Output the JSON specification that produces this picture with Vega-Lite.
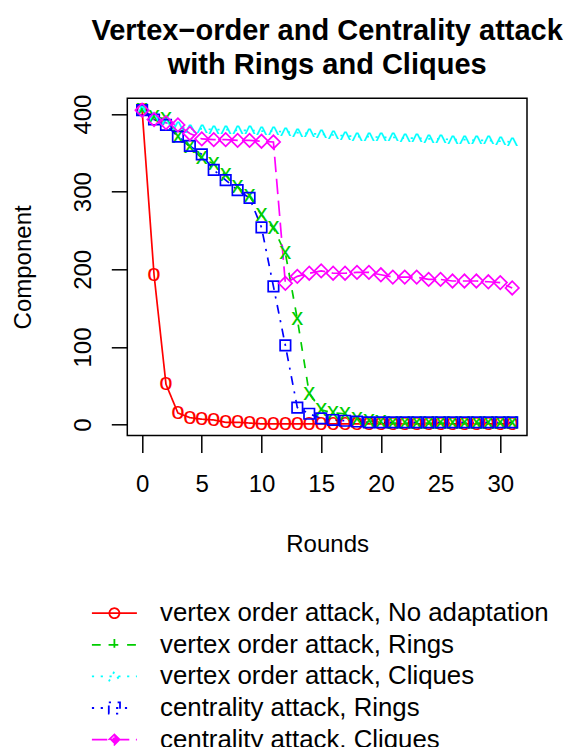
{
  "$schema": "https://vega.github.io/schema/vega-lite/v6.json",
  "autosize": {"type": "none"},
  "width": 399.7,
  "height": 337.2,
  "padding": {"left": 127.3, "top": 98.3, "right": 47, "bottom": 311.5},
  "background": "white",
  "config": {
    "font": "Liberation Sans",
    "view": {"stroke": "black", "strokeWidth": 1.5},
    "axis": {"domain": false, "grid": false, "tickColor": "black", "tickWidth": 1.5, "labelColor": "black", "titleColor": "black", "labelFont": "Liberation Sans", "titleFont": "Liberation Sans", "labelFontSize": 24, "titleFontSize": 24, "titleFontWeight": "normal"}
  },
  "title": {
    "text": ["Vertex−order and Centrality attack", "with Rings and Cliques"],
    "font": "Liberation Sans", "fontSize": 29, "fontWeight": "bold", "color": "black",
    "anchor": "middle", "frame": "group", "offset": 14, "lineHeight": 34
  },
  "data": {"values": [
    {"round":0,"component":405,"series":"vertex order attack, No adaptation"},
    {"round":1,"component":193,"series":"vertex order attack, No adaptation"},
    {"round":2,"component":52,"series":"vertex order attack, No adaptation"},
    {"round":3,"component":15,"series":"vertex order attack, No adaptation"},
    {"round":4,"component":9,"series":"vertex order attack, No adaptation"},
    {"round":5,"component":7,"series":"vertex order attack, No adaptation"},
    {"round":6,"component":6,"series":"vertex order attack, No adaptation"},
    {"round":7,"component":3,"series":"vertex order attack, No adaptation"},
    {"round":8,"component":3,"series":"vertex order attack, No adaptation"},
    {"round":9,"component":2,"series":"vertex order attack, No adaptation"},
    {"round":10,"component":1,"series":"vertex order attack, No adaptation"},
    {"round":11,"component":1,"series":"vertex order attack, No adaptation"},
    {"round":12,"component":1,"series":"vertex order attack, No adaptation"},
    {"round":13,"component":1,"series":"vertex order attack, No adaptation"},
    {"round":14,"component":1,"series":"vertex order attack, No adaptation"},
    {"round":15,"component":1,"series":"vertex order attack, No adaptation"},
    {"round":16,"component":1,"series":"vertex order attack, No adaptation"},
    {"round":17,"component":1,"series":"vertex order attack, No adaptation"},
    {"round":18,"component":1,"series":"vertex order attack, No adaptation"},
    {"round":19,"component":1,"series":"vertex order attack, No adaptation"},
    {"round":20,"component":1,"series":"vertex order attack, No adaptation"},
    {"round":21,"component":1,"series":"vertex order attack, No adaptation"},
    {"round":22,"component":1,"series":"vertex order attack, No adaptation"},
    {"round":23,"component":1,"series":"vertex order attack, No adaptation"},
    {"round":24,"component":1,"series":"vertex order attack, No adaptation"},
    {"round":25,"component":1,"series":"vertex order attack, No adaptation"},
    {"round":26,"component":1,"series":"vertex order attack, No adaptation"},
    {"round":27,"component":1,"series":"vertex order attack, No adaptation"},
    {"round":28,"component":1,"series":"vertex order attack, No adaptation"},
    {"round":29,"component":1,"series":"vertex order attack, No adaptation"},
    {"round":30,"component":1,"series":"vertex order attack, No adaptation"},
    {"round":31,"component":1,"series":"vertex order attack, No adaptation"},
    {"round":0,"component":405,"series":"vertex order attack, Rings"},
    {"round":1,"component":396,"series":"vertex order attack, Rings"},
    {"round":2,"component":394,"series":"vertex order attack, Rings"},
    {"round":3,"component":371,"series":"vertex order attack, Rings"},
    {"round":4,"component":358,"series":"vertex order attack, Rings"},
    {"round":5,"component":343,"series":"vertex order attack, Rings"},
    {"round":6,"component":336,"series":"vertex order attack, Rings"},
    {"round":7,"component":321,"series":"vertex order attack, Rings"},
    {"round":8,"component":306,"series":"vertex order attack, Rings"},
    {"round":9,"component":294,"series":"vertex order attack, Rings"},
    {"round":10,"component":270,"series":"vertex order attack, Rings"},
    {"round":11,"component":253,"series":"vertex order attack, Rings"},
    {"round":12,"component":221,"series":"vertex order attack, Rings"},
    {"round":13,"component":136,"series":"vertex order attack, Rings"},
    {"round":14,"component":40,"series":"vertex order attack, Rings"},
    {"round":15,"component":19,"series":"vertex order attack, Rings"},
    {"round":16,"component":15,"series":"vertex order attack, Rings"},
    {"round":17,"component":14,"series":"vertex order attack, Rings"},
    {"round":18,"component":7,"series":"vertex order attack, Rings"},
    {"round":19,"component":5,"series":"vertex order attack, Rings"},
    {"round":20,"component":3,"series":"vertex order attack, Rings"},
    {"round":21,"component":2,"series":"vertex order attack, Rings"},
    {"round":22,"component":2,"series":"vertex order attack, Rings"},
    {"round":23,"component":2,"series":"vertex order attack, Rings"},
    {"round":24,"component":2,"series":"vertex order attack, Rings"},
    {"round":25,"component":2,"series":"vertex order attack, Rings"},
    {"round":26,"component":2,"series":"vertex order attack, Rings"},
    {"round":27,"component":2,"series":"vertex order attack, Rings"},
    {"round":28,"component":2,"series":"vertex order attack, Rings"},
    {"round":29,"component":2,"series":"vertex order attack, Rings"},
    {"round":30,"component":2,"series":"vertex order attack, Rings"},
    {"round":31,"component":2,"series":"vertex order attack, Rings"},
    {"round":0,"component":405,"series":"vertex order attack, Cliques"},
    {"round":1,"component":396,"series":"vertex order attack, Cliques"},
    {"round":2,"component":389,"series":"vertex order attack, Cliques"},
    {"round":3,"component":384,"series":"vertex order attack, Cliques"},
    {"round":4,"component":381,"series":"vertex order attack, Cliques"},
    {"round":5,"component":381,"series":"vertex order attack, Cliques"},
    {"round":6,"component":380,"series":"vertex order attack, Cliques"},
    {"round":7,"component":380,"series":"vertex order attack, Cliques"},
    {"round":8,"component":379,"series":"vertex order attack, Cliques"},
    {"round":9,"component":379,"series":"vertex order attack, Cliques"},
    {"round":10,"component":378,"series":"vertex order attack, Cliques"},
    {"round":11,"component":378,"series":"vertex order attack, Cliques"},
    {"round":12,"component":377,"series":"vertex order attack, Cliques"},
    {"round":13,"component":376,"series":"vertex order attack, Cliques"},
    {"round":14,"component":375,"series":"vertex order attack, Cliques"},
    {"round":15,"component":374,"series":"vertex order attack, Cliques"},
    {"round":16,"component":373,"series":"vertex order attack, Cliques"},
    {"round":17,"component":372,"series":"vertex order attack, Cliques"},
    {"round":18,"component":371,"series":"vertex order attack, Cliques"},
    {"round":19,"component":371,"series":"vertex order attack, Cliques"},
    {"round":20,"component":370,"series":"vertex order attack, Cliques"},
    {"round":21,"component":370,"series":"vertex order attack, Cliques"},
    {"round":22,"component":369,"series":"vertex order attack, Cliques"},
    {"round":23,"component":369,"series":"vertex order attack, Cliques"},
    {"round":24,"component":368,"series":"vertex order attack, Cliques"},
    {"round":25,"component":368,"series":"vertex order attack, Cliques"},
    {"round":26,"component":367,"series":"vertex order attack, Cliques"},
    {"round":27,"component":367,"series":"vertex order attack, Cliques"},
    {"round":28,"component":366,"series":"vertex order attack, Cliques"},
    {"round":29,"component":366,"series":"vertex order attack, Cliques"},
    {"round":30,"component":365,"series":"vertex order attack, Cliques"},
    {"round":31,"component":364,"series":"vertex order attack, Cliques"},
    {"round":0,"component":405,"series":"centrality attack, Rings"},
    {"round":1,"component":393,"series":"centrality attack, Rings"},
    {"round":2,"component":386,"series":"centrality attack, Rings"},
    {"round":3,"component":371,"series":"centrality attack, Rings"},
    {"round":4,"component":359,"series":"centrality attack, Rings"},
    {"round":5,"component":348,"series":"centrality attack, Rings"},
    {"round":6,"component":328,"series":"centrality attack, Rings"},
    {"round":7,"component":315,"series":"centrality attack, Rings"},
    {"round":8,"component":302,"series":"centrality attack, Rings"},
    {"round":9,"component":292,"series":"centrality attack, Rings"},
    {"round":10,"component":254,"series":"centrality attack, Rings"},
    {"round":11,"component":178,"series":"centrality attack, Rings"},
    {"round":12,"component":102,"series":"centrality attack, Rings"},
    {"round":13,"component":22,"series":"centrality attack, Rings"},
    {"round":14,"component":14,"series":"centrality attack, Rings"},
    {"round":15,"component":8,"series":"centrality attack, Rings"},
    {"round":16,"component":6,"series":"centrality attack, Rings"},
    {"round":17,"component":5,"series":"centrality attack, Rings"},
    {"round":18,"component":4,"series":"centrality attack, Rings"},
    {"round":19,"component":3,"series":"centrality attack, Rings"},
    {"round":20,"component":3,"series":"centrality attack, Rings"},
    {"round":21,"component":3,"series":"centrality attack, Rings"},
    {"round":22,"component":3,"series":"centrality attack, Rings"},
    {"round":23,"component":3,"series":"centrality attack, Rings"},
    {"round":24,"component":3,"series":"centrality attack, Rings"},
    {"round":25,"component":3,"series":"centrality attack, Rings"},
    {"round":26,"component":3,"series":"centrality attack, Rings"},
    {"round":27,"component":3,"series":"centrality attack, Rings"},
    {"round":28,"component":3,"series":"centrality attack, Rings"},
    {"round":29,"component":3,"series":"centrality attack, Rings"},
    {"round":30,"component":3,"series":"centrality attack, Rings"},
    {"round":31,"component":3,"series":"centrality attack, Rings"},
    {"round":0,"component":405,"series":"centrality attack, Cliques"},
    {"round":1,"component":393,"series":"centrality attack, Cliques"},
    {"round":2,"component":389,"series":"centrality attack, Cliques"},
    {"round":3,"component":386,"series":"centrality attack, Cliques"},
    {"round":4,"component":375,"series":"centrality attack, Cliques"},
    {"round":5,"component":368,"series":"centrality attack, Cliques"},
    {"round":6,"component":367,"series":"centrality attack, Cliques"},
    {"round":7,"component":367,"series":"centrality attack, Cliques"},
    {"round":8,"component":366,"series":"centrality attack, Cliques"},
    {"round":9,"component":366,"series":"centrality attack, Cliques"},
    {"round":10,"component":365,"series":"centrality attack, Cliques"},
    {"round":11,"component":364,"series":"centrality attack, Cliques"},
    {"round":12,"component":182,"series":"centrality attack, Cliques"},
    {"round":13,"component":191,"series":"centrality attack, Cliques"},
    {"round":14,"component":195,"series":"centrality attack, Cliques"},
    {"round":15,"component":198,"series":"centrality attack, Cliques"},
    {"round":16,"component":195,"series":"centrality attack, Cliques"},
    {"round":17,"component":195,"series":"centrality attack, Cliques"},
    {"round":18,"component":196,"series":"centrality attack, Cliques"},
    {"round":19,"component":196,"series":"centrality attack, Cliques"},
    {"round":20,"component":193,"series":"centrality attack, Cliques"},
    {"round":21,"component":190,"series":"centrality attack, Cliques"},
    {"round":22,"component":190,"series":"centrality attack, Cliques"},
    {"round":23,"component":190,"series":"centrality attack, Cliques"},
    {"round":24,"component":187,"series":"centrality attack, Cliques"},
    {"round":25,"component":187,"series":"centrality attack, Cliques"},
    {"round":26,"component":185,"series":"centrality attack, Cliques"},
    {"round":27,"component":185,"series":"centrality attack, Cliques"},
    {"round":28,"component":185,"series":"centrality attack, Cliques"},
    {"round":29,"component":184,"series":"centrality attack, Cliques"},
    {"round":30,"component":183,"series":"centrality attack, Cliques"},
    {"round":31,"component":176,"series":"centrality attack, Cliques"}
  ]},
  "encoding": {
    "x": {"field": "round", "type": "quantitative", "title": "Rounds",
      "scale": {"domain": [-1.24, 32.24], "nice": false, "zero": false},
      "axis": {"values": [0, 5, 10, 15, 20, 25, 30], "tickSize": 17, "labelPadding": 20, "titlePadding": 36, "labelFlush": false}},
    "y": {"field": "component", "type": "quantitative", "title": "Component",
      "scale": {"domain": [-14, 420.3], "nice": false, "zero": false},
      "axis": {"values": [0, 100, 200, 300, 400], "tickSize": 16, "labelAngle": 270, "labelAlign": "center", "labelBaseline": "alphabetic", "labelPadding": 21, "titlePadding": 41, "titleAngle": 270, "titleBaseline": "alphabetic", "labelFlush": false}}
  },
  "layer": [
    {
      "mark": {"type": "point", "filled": false, "opacity": 0, "size": 256},
      "encoding": {
        "color": {"field": "series", "type": "nominal",
          "scale": {"domain": ["vertex order attack, No adaptation", "vertex order attack, Rings", "vertex order attack, Cliques", "centrality attack, Rings", "centrality attack, Cliques"],
            "range": ["#FF0000", "#00CD00", "#00FFFF", "#0000FF", "#FF00FF"]},
          "legend": {"orient": "none", "legendX": -25.8, "legendY": 502, "title": null, "padding": 0,
            "symbolSize": 256, "symbolStrokeWidth": 1.8, "symbolOpacity": 1, "symbolFillColor": "transparent",
            "labelFontSize": 25.8, "labelFont": "Liberation Sans", "labelColor": "black", "labelLimit": 0,
            "labelOffset": 32.8, "rowPadding": 4.6, "direction": "vertical", "columns": 1}},
        "shape": {"field": "series", "type": "nominal",
          "scale": {"domain": ["vertex order attack, No adaptation", "vertex order attack, Rings", "vertex order attack, Cliques", "centrality attack, Rings", "centrality attack, Cliques"],
            "range": [
              "M-2.8125,0H2.8125M0.625,0A0.625,0.625,0,1,1,-0.625,0A0.625,0.625,0,1,1,0.625,0",
              "M-2.8125,0H-1.7125M-0.6125,0H0.4875M1.5875,0H2.6875M-0.73,0H0.73M0,-0.73V0.73",
              "M-2.8125,0H-2.5375M-1.7125,0H-1.4375M-0.6125,0H-0.3375M0.4875,0H0.7625M1.5875,0H1.8625M2.6875,0H2.8125M-0.69,0.625L0,-0.625L0.69,0.625",
              "M-2.8125,0H-2.5375M-1.7125,0H-0.6125M0.2125,0H0.4875M1.3125,0H2.4125M-0.7,-0.7H0.7V0.7H-0.7Z",
              "M-2.8125,0H-0.8875M-0.0625,0H1.8625M2.6875,0H2.8125M0,-0.65L0.65,0L0,0.65L-0.65,0ZM0,-0.42L0.42,0L0,0.42L-0.42,0ZM0,-0.2L0.2,0L0,0.2L-0.2,0Z"
            ]}}
      }
    },
    {
      "mark": {"type": "line", "strokeWidth": 1.7},
      "encoding": {
        "color": {"field": "series", "type": "nominal", "legend": null},
        "strokeDash": {"field": "series", "type": "nominal", "legend": null,
          "scale": {"domain": ["vertex order attack, No adaptation", "vertex order attack, Rings", "vertex order attack, Cliques", "centrality attack, Rings", "centrality attack, Cliques"],
            "range": [[1, 0], [8.8, 8.8], [2.2, 6.6], [2.2, 6.6, 8.8, 6.6], [15.4, 6.6]]}}
      }
    },
    {
      "transform": [{"filter": "datum.series === 'vertex order attack, No adaptation'"}],
      "mark": {"type": "text", "text": "o", "fontSize": 24, "font": "Liberation Sans", "baseline": "middle", "align": "center", "dy": -1, "color": "#FF0000"}
    },
    {
      "transform": [{"filter": "datum.series === 'vertex order attack, Rings'"}],
      "mark": {"type": "text", "text": "x", "fontSize": 24, "font": "Liberation Sans", "baseline": "middle", "align": "center", "dy": -1, "color": "#00CD00"}
    },
    {
      "transform": [{"filter": "datum.series === 'vertex order attack, Cliques'"}],
      "mark": {"type": "text", "text": "^", "fontSize": 24, "font": "Liberation Sans", "baseline": "middle", "align": "center", "dy": 5, "color": "#00FFFF"}
    },
    {
      "transform": [{"filter": "datum.series === 'centrality attack, Rings'"}],
      "mark": {"type": "point", "shape": "square", "filled": false, "size": 110, "strokeWidth": 1.7, "color": "#0000FF", "opacity": 1}
    },
    {
      "transform": [{"filter": "datum.series === 'centrality attack, Cliques'"}],
      "mark": {"type": "point", "shape": "diamond", "filled": false, "size": 180, "strokeWidth": 1.7, "color": "#FF00FF", "opacity": 1}
    }
  ]
}
